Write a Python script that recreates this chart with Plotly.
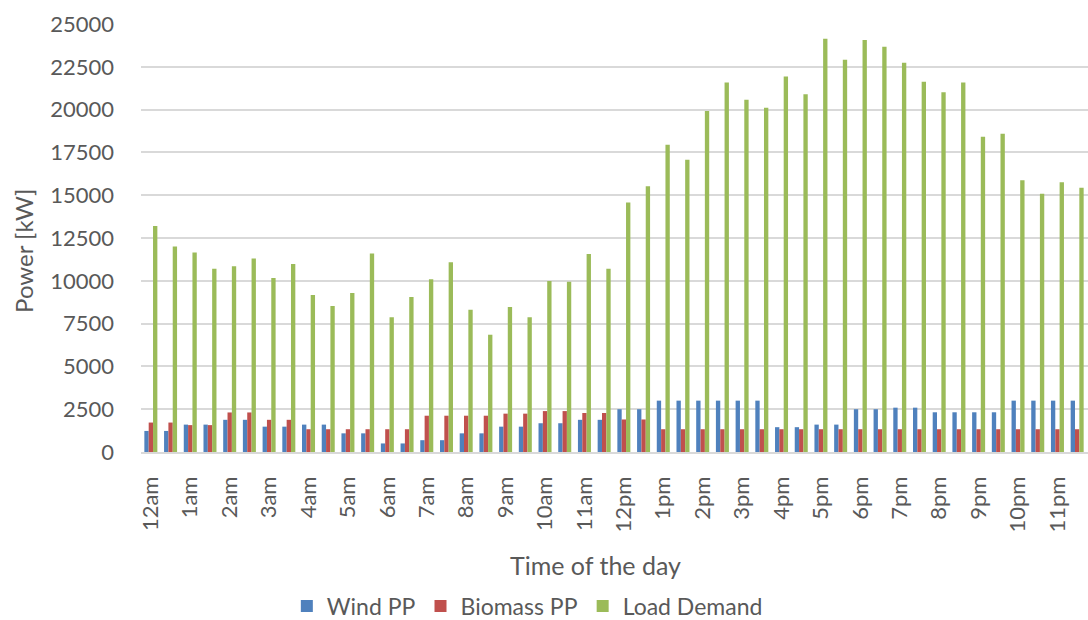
import plotly.graph_objects as go

# Half-hour slots over one day; every hour gets a tick label
slots = list(range(48))
hour_labels = ["12am", "1am", "2am", "3am", "4am", "5am", "6am", "7am", "8am", "9am",
               "10am", "11am", "12pm", "1pm", "2pm", "3pm", "4pm", "5pm", "6pm", "7pm",
               "8pm", "9pm", "10pm", "11pm"]

wind_pp = [1230, 1230, 1600, 1600, 1880, 1880, 1480, 1480, 1600, 1600, 1090, 1090,
           500, 500, 690, 690, 1090, 1090, 1480, 1480, 1680, 1680, 1880, 1880,
           2500, 2500, 3000, 3000, 3000, 3000, 3000, 3000, 1450, 1450, 1600, 1600,
           2500, 2500, 2590, 2590, 2320, 2320, 2320, 2320, 3000, 3000, 3000, 3000]

biomass_pp = [1720, 1720, 1570, 1570, 2310, 2310, 1880, 1880, 1330, 1330, 1330, 1330,
              1330, 1330, 2120, 2120, 2120, 2120, 2240, 2240, 2390, 2390, 2280, 2280,
              1900, 1900, 1330, 1330, 1330, 1330, 1330, 1330, 1330, 1330, 1330, 1330,
              1330, 1330, 1330, 1330, 1330, 1330, 1330, 1330, 1330, 1330, 1330, 1330]

load_demand = [13200, 12000, 11650, 10700, 10850, 11300, 10160, 10980, 9170, 8530, 9290, 11600,
               7870, 9050, 10085, 11080, 8315, 6850, 8470, 7870, 9990, 9950, 11565, 10710,
               14580, 15520, 17950, 17075, 19920, 21590, 20580, 20110, 21940, 20890, 24140, 22915,
               24065, 23675, 22740, 21630, 21010, 21590, 18420, 18590, 15870, 15090, 15750, 15440]

series = [
    ("Wind PP", wind_pp, "#4F81BD"),
    ("Biomass PP", biomass_pp, "#C0504D"),
    ("Load Demand", load_demand, "#9BBB59"),
]

TEXT = "#595959"
FONT = "Lato"

fig = go.Figure()
for name, vals, color in series:
    fig.add_trace(go.Bar(
        x=slots, y=vals, name=name,
        marker=dict(color=color, line=dict(width=0)),
    ))

fig.update_layout(
    width=1088, height=620,
    margin=dict(l=141, r=0, t=24, b=168, autoexpand=False),
    paper_bgcolor="white", plot_bgcolor="white",
    barmode="group", bargap=0.34, bargroupgap=0,
    font=dict(family=FONT, color=TEXT, size=22),
    showlegend=True,
    legend=dict(
        orientation="h", x=0.154, xanchor="left", y=-0.36, yanchor="middle",
        font=dict(size=23, color=TEXT), itemwidth=30, traceorder="normal",
        bgcolor="rgba(0,0,0,0)",
    ),
    annotations=[
        dict(
            text="Time of the day", xref="paper", yref="paper",
            x=0.48, y=-0.263, xanchor="center", yanchor="middle",
            showarrow=False, font=dict(size=25, color=TEXT, family=FONT),
        ),
        dict(
            text="Power [kW]", xref="paper", yref="paper",
            x=-0.1235, y=0.47, xanchor="center", yanchor="middle", textangle=-90,
            showarrow=False, font=dict(size=24, color=TEXT, family=FONT),
        ),
    ],
)

fig.update_xaxes(
    range=[-0.5, 47.55], automargin=False,
    tickmode="array", tickvals=slots[::2], ticktext=hour_labels,
    tickangle=-90, tickfont=dict(size=22, color=TEXT),
    ticks="", ticklabelstandoff=14,
    showgrid=False, zeroline=False,
    showline=True, linecolor="#d9d9d9", linewidth=1.5,
)

fig.update_yaxes(
    range=[0, 25000], tick0=0, dtick=2500, tickformat="d", automargin=False,
    tickfont=dict(size=22, color=TEXT),
    ticks="", ticklabelstandoff=26,
    showgrid=True, gridcolor="#d9d9d9", gridwidth=1.5,
    zeroline=False, showline=False,
)

fig.write_html("out.html")
